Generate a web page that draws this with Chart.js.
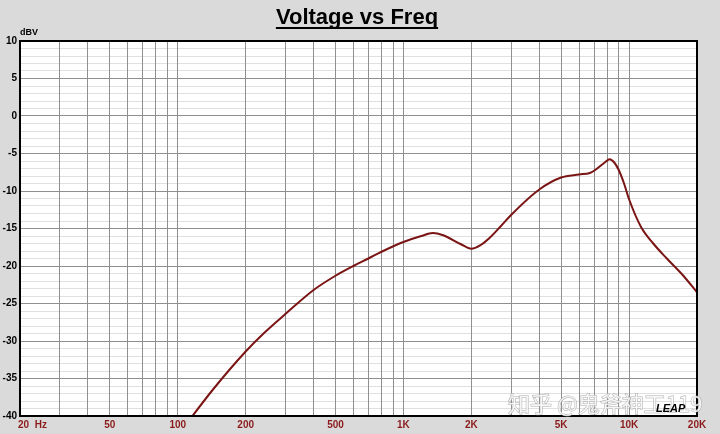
<!DOCTYPE html>
<html>
<head>
<meta charset="utf-8">
<script src="https://cdn.jsdelivr.net/npm/chart.js@4/dist/chart.umd.min.js"></script>
<style>
  html, body { margin: 0; padding: 0; background: #dadada; }
  canvas { display: block; }
</style>
</head>
<body>
<canvas id="chart" width="720" height="434"></canvas>
<script>
/* ===== Data ===== */
// below ~116 Hz the response sits under the -40 dBV floor and is clipped
const freqs = [100, 143, 200, 240, 300, 400, 500, 600, 700, 800, 1000, 1200, 1350, 1500, 1800, 2000, 2200, 2400, 2700, 3000,
  4000, 5000, 6000, 6700, 7000, 7800, 8200, 8600, 9000, 9500, 10000, 11300, 12800, 14700, 17400, 20000];
const dbv = [-42.6, -36.5, -31.4, -29.0, -26.4, -23.2, -21.3, -20.0, -19.0, -18.1, -16.8, -16.0, -15.6, -15.9, -17.1, -17.7, -17.2, -16.3, -14.7, -13.2,
  -9.8, -8.2, -7.8, -7.6, -7.3, -6.2, -5.75, -6.2, -7.2, -9.0, -11.1, -14.8, -17.0, -19.0, -21.3, -23.5];

// vertical grid positions (1..9 per decade) and their labels
const xGrid = [20, 30, 40, 50, 60, 70, 80, 90, 100, 200, 300, 400, 500, 600, 700, 800, 900,
  1000, 2000, 3000, 4000, 5000, 6000, 7000, 8000, 9000, 10000, 20000];
const xTickValues = [20, 50, 100, 200, 500, 1000, 2000, 5000, 10000, 20000];
const xTickLabels = ['20  Hz', '50', '100', '200', '500', '1K', '2K', '5K', '10K', '20K'];
const yTickValues = [10, 5, 0, -5, -10, -15, -20, -25, -30, -35, -40];
const yMin = -40, yMax = 10;

const title = 'Voltage vs Freq';
const yUnit = 'dBV';
const watermark = '知乎 @鬼斧神工119';

const points = freqs.map((f, i) => ({ x: f, y: dbv[i] }));

const FONT = '"Liberation Sans", Arial, sans-serif';

// white plot area, frame, title, and hand-placed axis text
const decor = {
  id: 'decor',
  beforeDraw(chart) {
    const { ctx, chartArea: a } = chart;
    ctx.save();
    ctx.fillStyle = '#ffffff';
    ctx.fillRect(a.left, a.top, a.right - a.left, a.bottom - a.top);
    ctx.restore();
  },
  afterDraw(chart) {
    const { ctx, chartArea: a, scales } = chart;
    ctx.save();
    // frame
    ctx.strokeStyle = '#000';
    ctx.lineWidth = 2;
    ctx.strokeRect(a.left, a.top, a.right - a.left, a.bottom - a.top);

    // title, underlined
    ctx.font = 'bold 22px ' + FONT;
    ctx.fillStyle = '#000';
    ctx.textAlign = 'center';
    ctx.textBaseline = 'alphabetic';
    const tx = 357, ty = 24;
    ctx.fillText(title, tx, ty);
    const w = ctx.measureText(title).width;
    ctx.fillRect(tx - w / 2, ty + 3, w, 2);

    // unit label
    ctx.font = 'bold 9px ' + FONT;
    ctx.textAlign = 'left';
    ctx.textBaseline = 'middle';
    ctx.fillText(yUnit, 20, 33);

    // y tick labels
    ctx.font = 'bold 10px ' + FONT;
    ctx.textAlign = 'right';
    yTickValues.forEach(v => {
      ctx.fillText(String(v), a.left - 3, scales.y.getPixelForValue(v));
    });

    // x tick labels
    ctx.fillStyle = '#8b1a1a';
    xTickValues.forEach((v, i) => {
      const px = scales.x.getPixelForValue(v);
      if (i === 0) {
        ctx.textAlign = 'left';
        ctx.fillText(xTickLabels[i], px - 2, 425);
      } else {
        ctx.textAlign = 'center';
        ctx.fillText(xTickLabels[i], px, 425);
      }
    });

    // watermark + logo
    ctx.font = '22px "Noto Sans CJK SC", sans-serif';
    ctx.textAlign = 'left';
    ctx.globalAlpha = 0.8;
    ctx.lineWidth = 1;
    ctx.strokeStyle = '#9a9a9a';
    ctx.fillStyle = '#ffffff';
    ctx.strokeText(watermark, 508, 404);
    ctx.fillText(watermark, 508, 404);
    ctx.globalAlpha = 1;
    ctx.font = 'italic bold 11px ' + FONT;
    ctx.fillStyle = '#000';
    ctx.fillText('LEAP', 656, 409);
    ctx.restore();
  }
};

new Chart(document.getElementById('chart'), {
  type: 'line',
  data: {
    datasets: [{
      data: points,
      borderColor: '#7b1414',
      borderWidth: 2,
      pointRadius: 0,
      cubicInterpolationMode: 'monotone',
      fill: false
    }]
  },
  options: {
    responsive: false,
    animation: false,
    layout: { padding: { left: 0, right: 23, top: 41, bottom: 0 } },
    plugins: { legend: { display: false }, title: { display: false }, tooltip: { enabled: false } },
    scales: {
      // y listed first so the vertical grid is painted over the light dB lines
      y: {
        min: yMin,
        max: yMax,
        // one grid line per dB; labels are drawn by the decor plugin
        afterBuildTicks: (scale) => {
          const t = [];
          for (let v = yMin; v <= yMax; v++) t.push({ value: v });
          scale.ticks = t;
        },
        afterFit: (scale) => { scale.width = 20; },
        ticks: { display: false },
        grid: {
          drawTicks: false,
          color: (c) => (c.tick && c.tick.value % 5 === 0 ? '#8f8f8f' : '#e0e0e0'),
          lineWidth: 1
        },
        border: { display: false }
      },
      x: {
        type: 'logarithmic',
        min: 20,
        max: 20000,
        afterBuildTicks: (scale) => { scale.ticks = xGrid.map(v => ({ value: v })); },
        afterFit: (scale) => { scale.height = 18; },
        ticks: { display: false },
        grid: { color: '#8f8f8f', lineWidth: 1, drawTicks: false },
        border: { display: false }
      }
    }
  },
  plugins: [decor]
});
</script>
</body>
</html>
